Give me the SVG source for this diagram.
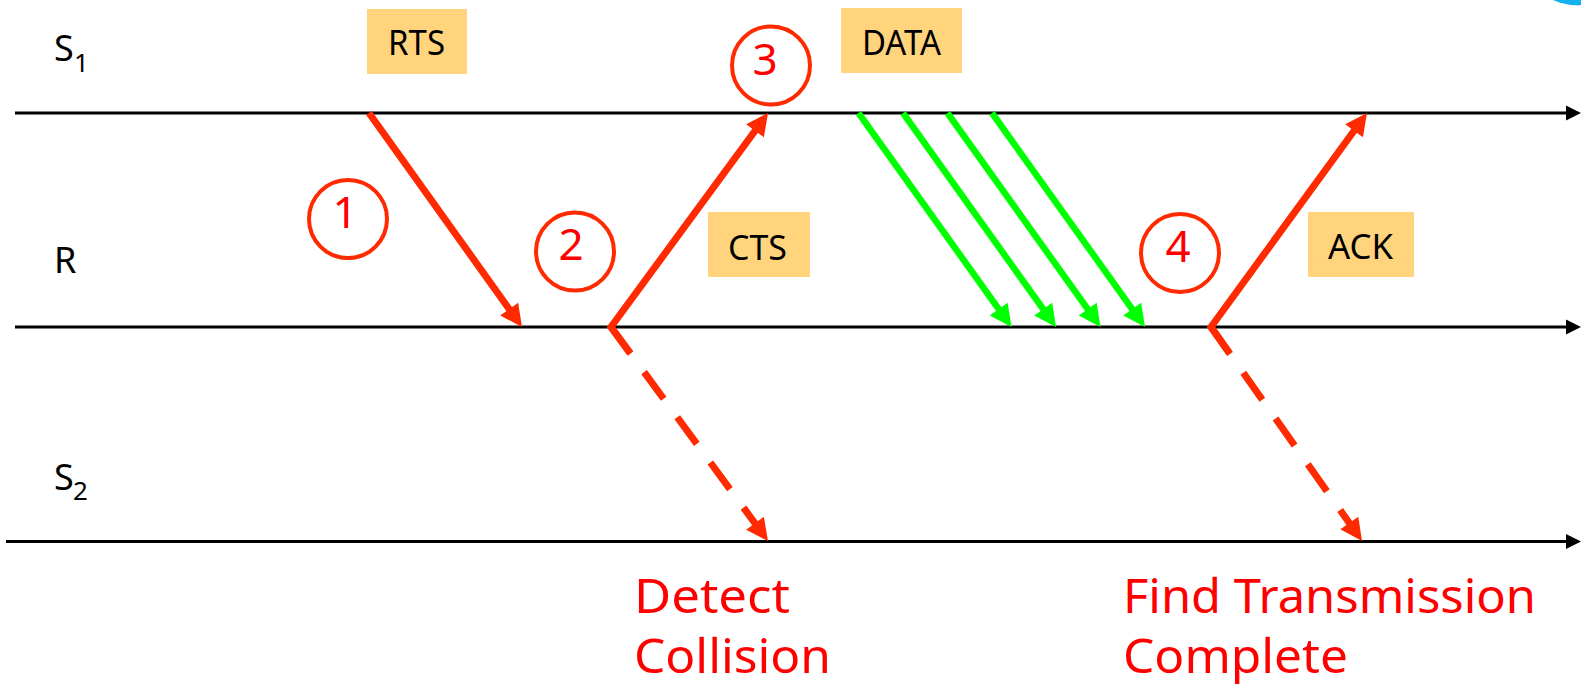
<svg xmlns="http://www.w3.org/2000/svg" width="1581" height="687" viewBox="0 0 1581 687">
  <style>
    .axis { stroke: #000; stroke-width: 3; fill: none; marker-end: url(#axisHead); }
    .msg { stroke: #FF2A00; stroke-width: 7; fill: none; }
    .msg-arrow { marker-end: url(#redHead); }
    .dash { stroke-dasharray: 33 23; }
    .data { stroke: #00FF00; stroke-width: 6.5; fill: none; marker-end: url(#greenHead); }
    .step { fill: none; stroke: #FF2A00; stroke-width: 4; }
    .step-num { font-family: "Noto Sans", "Open Sans", sans-serif; font-size: 44px; fill: #FF0000; text-anchor: middle; }
    .tag { fill: #FFD47D; }
    .tag-text { font-family: "Noto Sans", "Open Sans", sans-serif; font-size: 34px; fill: #000; text-anchor: middle; }
    .lane { font-family: "Noto Sans", "Open Sans", sans-serif; font-size: 36px; fill: #000; }
    .lane-sub { font-family: "Noto Sans", "Open Sans", sans-serif; font-size: 26px; fill: #000; }
    .note { font-family: "Noto Sans", "Open Sans", sans-serif; font-size: 47px; fill: #FF0000; }
  </style>
  <defs>
    <marker id="axisHead" markerUnits="userSpaceOnUse" markerWidth="16" markerHeight="16" refX="4" refY="8" orient="auto">
      <path d="M0,0.5 L15,8 L0,15.5 Z" fill="#000"/>
    </marker>
    <marker id="redHead" markerUnits="userSpaceOnUse" markerWidth="24" markerHeight="24" refX="14" refY="11" orient="auto" overflow="visible">
      <path d="M0,0 L22,11 L0,22 Z" fill="#FF2A00"/>
    </marker>
    <marker id="greenHead" markerUnits="userSpaceOnUse" markerWidth="24" markerHeight="24" refX="14" refY="11" orient="auto" overflow="visible">
      <path d="M0,0 L22,11 L0,22 Z" fill="#00FF00"/>
    </marker>
  </defs>

  <rect width="1581" height="687" fill="#fff"/>

  <!-- corner decoration -->
  <path d="M1553,0 C1562,4 1572,6 1581,5 L1581,0 Z" fill="#12B2EE"/>

  <!-- time lines -->
  <g id="lane-s1">
    <line class="axis" x1="15" y1="113" x2="1570" y2="113"/>
    <text class="lane" x="54" y="61">S</text>
    <text class="lane-sub" x="74" y="72">1</text>
  </g>
  <g id="lane-r">
    <line class="axis" x1="15" y1="327" x2="1570" y2="327"/>
    <text class="lane" x="54" y="273">R</text>
  </g>
  <g id="lane-s2">
    <line class="axis" x1="6" y1="541.5" x2="1570" y2="541.5"/>
    <text class="lane" x="54" y="490">S</text>
    <text class="lane-sub" x="73" y="500">2</text>
  </g>

  <!-- messages -->
  <g id="connectors">
    <line class="msg msg-arrow" x1="369" y1="113" x2="517.35" y2="320.49"/>
    <path class="msg" d="M630,352.8 L611,327 L763.29,119.46" stroke-linejoin="miter" stroke-miterlimit="10"/>
    <line class="msg msg-arrow" x1="611" y1="327" x2="763.29" y2="119.46" stroke-opacity="0"/>
    <line class="msg msg-arrow dash" x1="611" y1="327" x2="763.27" y2="534.55"/>
    <line class="data" x1="858.5" y1="113" x2="1006.85" y2="320.49"/>
    <line class="data" x1="903" y1="113" x2="1051.35" y2="320.49"/>
    <line class="data" x1="947.5" y1="113" x2="1095.85" y2="320.49"/>
    <line class="data" x1="992" y1="113" x2="1140.35" y2="320.49"/>
    <path class="msg" d="M1229.4,353.1 L1211,327 L1362.29,119.46" stroke-linejoin="miter" stroke-miterlimit="10"/>
    <line class="msg msg-arrow" x1="1211" y1="327" x2="1362.29" y2="119.46" stroke-opacity="0"/>
    <line class="msg msg-arrow dash" x1="1211" y1="327" x2="1357.39" y2="534.46"/>
  </g>

  <!-- frame tags -->
  <g id="tag-rts">
    <rect class="tag" x="367" y="9" width="100" height="65"/>
    <text class="tag-text" x="416.5" y="55" textLength="57" lengthAdjust="spacingAndGlyphs">RTS</text>
  </g>
  <g id="tag-data">
    <rect class="tag" x="841" y="8" width="121" height="65"/>
    <text class="tag-text" x="901.5" y="55" textLength="79" lengthAdjust="spacingAndGlyphs">DATA</text>
  </g>
  <g id="tag-cts">
    <rect class="tag" x="708" y="212" width="102" height="65"/>
    <text class="tag-text" x="757.5" y="260" textLength="59" lengthAdjust="spacingAndGlyphs">CTS</text>
  </g>
  <g id="tag-ack">
    <rect class="tag" x="1308" y="212" width="106" height="65"/>
    <text class="tag-text" x="1360.5" y="259" textLength="65" lengthAdjust="spacingAndGlyphs">ACK</text>
  </g>

  <!-- step markers -->
  <g id="step-1">
    <circle class="step" cx="348" cy="219" r="39"/>
    <text class="step-num" x="345" y="228">1</text>
  </g>
  <g id="step-2">
    <circle class="step" cx="575" cy="251.5" r="39"/>
    <text class="step-num" x="571" y="260">2</text>
  </g>
  <g id="step-3">
    <circle class="step" cx="771" cy="65.5" r="39"/>
    <text class="step-num" x="765" y="75">3</text>
  </g>
  <g id="step-4">
    <circle class="step" cx="1180" cy="253" r="39"/>
    <text class="step-num" x="1178" y="262">4</text>
  </g>

  <!-- outcome notes -->
  <g id="note-collision">
    <text class="note" x="634" y="613" textLength="156" lengthAdjust="spacingAndGlyphs">Detect</text>
    <text class="note" x="634" y="673" textLength="197" lengthAdjust="spacingAndGlyphs">Collision</text>
  </g>
  <g id="note-complete">
    <text class="note" x="1123" y="613" textLength="413" lengthAdjust="spacingAndGlyphs">Find Transmission</text>
    <text class="note" x="1123" y="673" textLength="225" lengthAdjust="spacingAndGlyphs">Complete</text>
  </g>
</svg>
